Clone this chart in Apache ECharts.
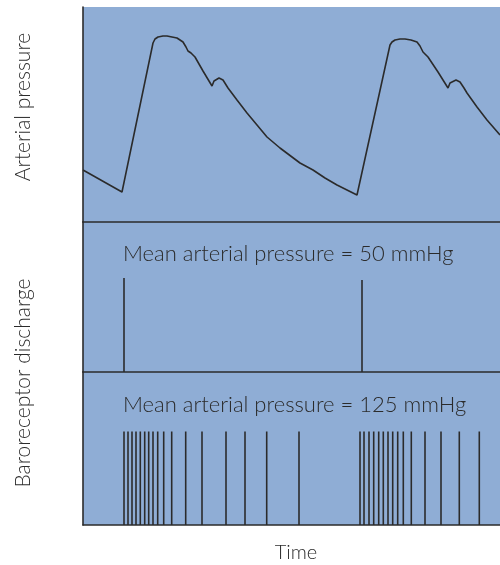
<!DOCTYPE html>
<html>
<head>
<meta charset="utf-8">
<script src="https://cdn.jsdelivr.net/npm/echarts@6/dist/echarts.min.js"></script>
<style>
html,body{margin:0;padding:0;background:#fff;}
#chart{width:500px;height:565px;}
</style>
</head>
<body>
<div id="chart"></div>
<script>
// Time (arbitrary units) and arterial pressure (arbitrary units)
const pressureTime = [0,39,70,72,75,80,84,89,94,100,103,105,108,112,120,129,131,133,136,140,145,154,164,174,184,197,217,230,242,254,264,274,307,309,312,317,322,328,334,337,340,345,355,365,367,369,373,377,381,384,394,404,417];
const pressureValue = [52,30,179,183,185,186,186,185,184,180,175,171,169,165,151,136,141,143,144,142,134,122,109,97,85,74,59,52,44,37,32,27,177,180,182,183,183,182,180,176,170,165,150,134,139,141,142,140,134,129,115,102,87];

// Baroreceptor spikes at mean arterial pressure = 50 mmHg
const spikes50Time = [41,279];
const spikes50Height = [94,92];

// Baroreceptor spikes at mean arterial pressure = 125 mmHg
const spikes125Time = [41,45,49,53,57.3,61.7,65.7,70,74.7,80.7,88.7,102.7,119,143,162,183.7,216,
  277,281,286,290.7,295.7,300.3,305,309.7,314.7,320.3,328.3,342,358,376.3,396.3];
const spike125Height = 93.5;

const labels = {
  top: 'Arterial pressure',
  side: 'Baroreceptor discharge',
  x: 'Time',
  mid: 'Mean arterial pressure = 50 mmHg',
  low: 'Mean arterial pressure = 125 mmHg'
};

const BG = '#8fadd5';
const INK = '#2b2b2b';
const FONT = 'Lato';

const chart = echarts.init(document.getElementById('chart'), null, {renderer:'canvas'});

function spikeRender(params, api){
  const p0 = api.coord([api.value(0), 0]);
  const p1 = api.coord([api.value(0), api.value(1)]);
  return {type:'line', shape:{x1:p0[0], y1:p0[1], x2:p1[0], y2:p1[1]},
    style:{stroke:INK, lineWidth:1.6}};
}

const axisOff = {show:false};
function xAx(gi){
  return {type:'value', gridIndex:gi, min:0, max:417,
    axisLine:{show:true, onZero:false, lineStyle:{color:INK, width:1.6}},
    axisTick:axisOff, axisLabel:axisOff, splitLine:axisOff};
}
function yAx(gi, max){
  return {type:'value', gridIndex:gi, min:0, max:max,
    axisLine:{show:true, lineStyle:{color:INK, width:1.6}},
    axisTick:axisOff, axisLabel:axisOff, splitLine:axisOff};
}

const option = {
  animation:false,
  backgroundColor:'#ffffff',
  grid:[
    {left:83, top:7, width:417, height:215, show:true, backgroundColor:BG, borderWidth:0},
    {left:83, top:222, width:417, height:150, show:true, backgroundColor:BG, borderWidth:0},
    {left:83, top:372, width:417, height:153, show:true, backgroundColor:BG, borderWidth:0}
  ],
  xAxis:[xAx(0), xAx(1), xAx(2)],
  yAxis:[yAx(0,215), yAx(1,150), yAx(2,153)],
  series:[
    {type:'line', xAxisIndex:0, yAxisIndex:0, showSymbol:false, smooth:false,
     lineStyle:{color:INK, width:1.6},
     data:pressureTime.map((t,i)=>[t, pressureValue[i]])},
    {type:'custom', xAxisIndex:1, yAxisIndex:1, renderItem:spikeRender,
     data:spikes50Time.map((t,i)=>[t, spikes50Height[i]])},
    {type:'custom', xAxisIndex:2, yAxisIndex:2, renderItem:spikeRender,
     data:spikes125Time.map(t=>[t, spike125Height])}
  ],
  graphic:[
    {type:'text', x:23, y:107, rotation:Math.PI/2,
     style:{text:labels.top, font:'300 21px '+FONT, fill:INK, align:'center', verticalAlign:'middle'}},
    {type:'text', x:23, y:383, rotation:Math.PI/2,
     style:{text:labels.side, font:'300 21px '+FONT, fill:INK, align:'center', verticalAlign:'middle'}},
    {type:'text', x:296, y:553,
     style:{text:labels.x, font:'300 20px '+FONT, fill:INK, align:'center', verticalAlign:'middle'}},
    {type:'text', x:123, y:254,
     style:{text:labels.mid, font:'300 22px '+FONT, fill:INK, align:'left', verticalAlign:'middle'}},
    {type:'text', x:123, y:405,
     style:{text:labels.low, font:'300 22px '+FONT, fill:INK, align:'left', verticalAlign:'middle'}}
  ]
};
chart.setOption(option);
</script>
</body>
</html>
